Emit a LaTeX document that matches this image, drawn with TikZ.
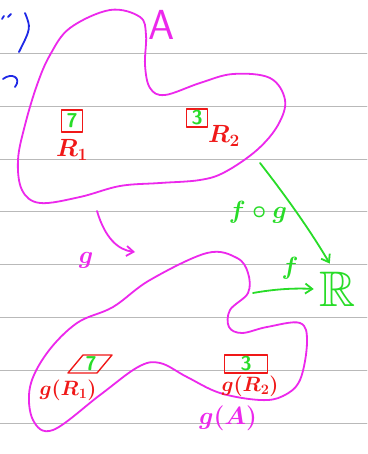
\documentclass[tikz,border=0pt]{standalone}
\usepackage{amssymb}
\usetikzlibrary{arrows.meta}
\definecolor{pen}{RGB}{236,40,236}
\definecolor{grn}{RGB}{40,220,40}
\definecolor{rd}{RGB}{240,24,24}
\definecolor{blu}{RGB}{30,40,230}
\begin{document}
\begin{tikzpicture}[x=1pt,y=-1pt,line cap=round,line join=round,
 ink/.style={line width=1.8pt},
 lbl/.style={inner sep=0pt,font=\fontsize{#1}{#1}\selectfont\boldmath},
 box/.style={draw=rd,line width=1.4pt,text=grn,inner sep=0pt,font=\fontsize{20}{20}\selectfont\sffamily\bfseries},
 >={Straight Barb[length=7pt,width=10pt]}]
\fill[white] (0,0) rectangle (367,454);
\useasboundingbox (0,0) rectangle (367,454);
% ruled paper
\foreach \y in {53,106,159,211,264,317,370,423}
  \draw[gray!55,line width=0.8pt] (0,\y) -- (367,\y);
% blue leftovers
\draw[blu,ink] (25,13) .. controls (31,28) .. (19,52);
\draw[blu,ink] (2,19) -- (4,16) (8,17) -- (11,14);
\draw[blu,ink] (3,79) .. controls (12,72) and (22,78) .. (15,87);
% set A
\draw[pen,ink] plot[smooth cycle,tension=0.6] coordinates {(110,10) (140,17) (146,35) (145,65) (150,88) (165,95) (200,83) (233,74) (270,78) (285,100) (278,125) (257,150) (225,172) (200,180) (160,183) (120,186) (80,197) (40,203) (22,190) (18,160) (25,125) (37,85) (50,55) (70,28)};
\node[lbl=42,pen,font=\fontsize{42}{42}\selectfont\sffamily] (A) at (162,25) {A};
\node[box,minimum width=21,minimum height=22] (r1) at (72,121) {7};
\node[box,minimum width=21,minimum height=18] (r2) at (197,118) {3};
\node[lbl=26,rd] (l1) at (72,150) {$R_1$};
\node[lbl=26,rd] (l2) at (224,136) {$R_2$};
% set g(A)
\draw[pen,ink] plot[smooth cycle,tension=0.6] coordinates {(113,307) (150,280) (207,253) (237,258) (248,273) (248,293) (230,310) (229,327) (242,333) (267,327) (300,323) (307,342) (300,380) (283,396) (260,400) (220,393) (187,377) (160,363) (138,367) (100,395) (53,430) (33,420) (30,387) (47,353) (77,323)};
\draw[rd,line width=1.4pt] (83,355) -- (112,355) -- (97,373) -- (68,373) -- cycle;
\node[lbl=20,grn,font=\fontsize{20}{20}\selectfont\sffamily\bfseries] (d1) at (91,364) {7};
\node[box,minimum width=43,minimum height=18] (d2) at (246,364) {3};
\node[lbl=22,rd] (m1) at (68,390) {$g(R_1)$};
\node[lbl=22,rd] (m2) at (250,386) {$g(R_2)$};
\node[lbl=28,pen] (gA) at (228,418) {$g(A)$};
% maps
\coordinate (gs) at (97,211);
\coordinate (ge) at (135,252);
\draw[pen,ink,->] (gs) .. controls (105,238) and (118,250) .. (ge);
\node[lbl=32,pen] (g) at (86,260) {$g$};
\node[lbl=50,grn] (R) at (338,289) {$\mathbb{R}$};
\coordinate (fg0) at (260,163);
\coordinate (f0) at (253,293);
\draw[grn,ink,->] (fg0) .. controls (285,195) and (310,230) .. ([shift={(10,-8)}]R.north west);
\draw[grn,ink,->] (f0) .. controls (275,289) and (295,288) .. ([xshift=-6pt]R.west);
\node[lbl=24,grn] (fg) at (258,212) {$f\circ g$};
\node[lbl=26,grn] (f) at (290,268) {$f$};
\end{tikzpicture}
\end{document}
